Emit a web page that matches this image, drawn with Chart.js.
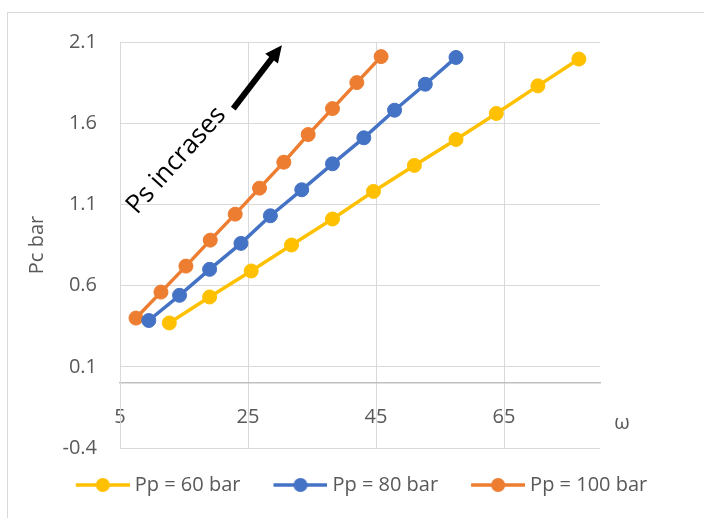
<!DOCTYPE html>
<html>
<head>
<meta charset="utf-8">
<script src="https://cdn.jsdelivr.net/npm/chart.js@4/dist/chart.umd.min.js"></script>
<style>
  body { margin: 0; background: #fff; }
  #wrap { width: 704px; height: 518px; }
</style>
</head>
<body>
<div id="wrap"><canvas id="myChart" width="704" height="518"></canvas></div>
<script>
// values
const seriesNames = ['Pp = 60 bar', 'Pp = 80 bar', 'Pp = 100 bar'];
const seriesColors = ['#FFC000', '#4472C4', '#ED7D31'];

const omega60 = [12.7, 19.0, 25.5, 31.8, 38.2, 44.6, 51.0, 57.5, 63.8, 70.3, 76.7];
const pc60 = [0.37, 0.53, 0.69, 0.85, 1.01, 1.18, 1.34, 1.50, 1.66, 1.83, 1.995];

const omega80 = [9.5, 14.3, 19.0, 23.9, 28.5, 33.4, 38.2, 43.1, 47.9, 52.7, 57.5];
const pc80 = [0.385, 0.54, 0.70, 0.86, 1.03, 1.19, 1.35, 1.51, 1.68, 1.84, 2.005];

const omega100 = [7.5, 11.4, 15.3, 19.1, 23.0, 26.8, 30.6, 34.4, 38.2, 42.0, 45.8];
const pc100 = [0.40, 0.56, 0.72, 0.88, 1.04, 1.20, 1.36, 1.53, 1.69, 1.85, 2.01];

const xTicks = [5, 25, 45, 65];
const yTicks = [-0.4, 0.1, 0.6, 1.1, 1.6, 2.1];

const textColor = '#595959';
const gridColor = '#d9d9d9';
const fontFamily = '"Open Sans", "Noto Sans", sans-serif';

function toPoints(xs, ys) {
  return xs.map((x, i) => ({ x: x, y: ys[i] }));
}

// little line + marker picture for the legend
function legendIcon(color) {
  const c = document.createElement('canvas');
  c.width = 65;
  c.height = 16;
  const g = c.getContext('2d');
  g.strokeStyle = color;
  g.lineWidth = 3.5;
  g.beginPath();
  g.moveTo(11, 8);
  g.lineTo(65, 8);
  g.stroke();
  g.fillStyle = color;
  g.beginPath();
  g.arc(38, 8, 7, 0, Math.PI * 2);
  g.fill();
  return c;
}
const icons = seriesColors.map(legendIcon);

const allData = [toPoints(omega60, pc60), toPoints(omega80, pc80), toPoints(omega100, pc100)];

const datasets = allData.map((pts, i) => ({
  label: seriesNames[i],
  data: pts,
  showLine: true,
  borderColor: seriesColors[i],
  backgroundColor: seriesColors[i],
  borderWidth: 3.5,
  pointRadius: 7,
  pointBorderWidth: 1,
  pointBackgroundColor: seriesColors[i],
  pointBorderColor: seriesColors[i],
  tension: 0
}));

// arrow and annotation text, placed in data units
const arrowFrom = { x: 22.7, y: 1.69 };
const arrowTo = { x: 30.3, y: 2.08 };
const noteAt = { x: 13.8, y: 1.37 };

const decor = {
  id: 'decor',
  beforeDraw(chart) {
    const ctx = chart.ctx;
    ctx.save();
    ctx.strokeStyle = gridColor;
    ctx.lineWidth = 1;
    ctx.strokeRect(7.5, 12.5, 760, 560);
    ctx.restore();
  },
  afterDraw(chart) {
    const ctx = chart.ctx;
    const xs = chart.scales.x;
    const ys = chart.scales.y;

    // arrow
    const x1 = xs.getPixelForValue(arrowFrom.x), y1 = ys.getPixelForValue(arrowFrom.y);
    const x2 = xs.getPixelForValue(arrowTo.x), y2 = ys.getPixelForValue(arrowTo.y);
    const ang = Math.atan2(y2 - y1, x2 - x1);
    const head = 17;
    ctx.save();
    ctx.strokeStyle = '#000';
    ctx.fillStyle = '#000';
    ctx.lineWidth = 6;
    ctx.beginPath();
    ctx.moveTo(x1, y1);
    ctx.lineTo(x2 - head * 0.8 * Math.cos(ang), y2 - head * 0.8 * Math.sin(ang));
    ctx.stroke();
    ctx.beginPath();
    ctx.moveTo(x2, y2);
    ctx.lineTo(x2 - head * Math.cos(ang) + 8 * Math.sin(ang), y2 - head * Math.sin(ang) - 8 * Math.cos(ang));
    ctx.lineTo(x2 - head * Math.cos(ang) - 8 * Math.sin(ang), y2 - head * Math.sin(ang) + 8 * Math.cos(ang));
    ctx.closePath();
    ctx.fill();
    ctx.restore();

    // rotated note
    ctx.save();
    ctx.translate(xs.getPixelForValue(noteAt.x), ys.getPixelForValue(noteAt.y));
    ctx.rotate(-48 * Math.PI / 180);
    ctx.fillStyle = '#000';
    ctx.font = '26px ' + fontFamily;
    ctx.textAlign = 'center';
    ctx.textBaseline = 'middle';
    ctx.fillText('Ps incrases', 0, 0);
    ctx.restore();

    // omega axis title
    ctx.save();
    ctx.fillStyle = textColor;
    ctx.font = '20px ' + fontFamily;
    ctx.textAlign = 'center';
    ctx.textBaseline = 'alphabetic';
    ctx.fillText('ω', chart.chartArea.right + 22, ys.getPixelForValue(-0.28));
    ctx.restore();
  }
};

const ctx = document.getElementById('myChart').getContext('2d');

const myChart = new Chart(ctx, {
  type: 'scatter',
  data: { datasets: datasets },
  plugins: [decor],
  options: {
    responsive: false,
    animation: false,
    layout: { padding: { left: 13, right: 0, top: 42, bottom: 13 } },
    plugins: {
      tooltip: { enabled: false },
      legend: {
        position: 'bottom',
        labels: {
          usePointStyle: true,
          pointStyleWidth: 55,
          padding: 27,
          color: textColor,
          font: { family: fontFamily, size: 20 },
          generateLabels: (chart) => chart.data.datasets.map((ds, i) => ({
            text: ds.label,
            pointStyle: icons[i],
            fontColor: textColor,
            fillStyle: 'rgba(0,0,0,0)',
            strokeStyle: 'rgba(0,0,0,0)',
            lineWidth: 0,
            hidden: false,
            datasetIndex: i
          }))
        }
      }
    },
    scales: {
      x: {
        type: 'linear',
        position: { y: 0 },
        min: 5,
        max: 80,
        afterBuildTicks: (s) => { s.ticks = xTicks.map(v => ({ value: v })); },
        grid: { color: gridColor, drawTicks: false },
        border: { color: '#bfbfbf', width: 1.5 },
        ticks: {
          padding: 22,
          maxRotation: 0,
          color: textColor,
          font: { family: fontFamily, size: 20 }
        }
      },
      y: {
        type: 'linear',
        position: 'left',
        min: -0.4,
        max: 2.1,
        afterBuildTicks: (s) => { s.ticks = yTicks.map(v => ({ value: v })); },
        afterFit: (s) => { s.width = 107; },
        grid: { color: gridColor, drawTicks: false },
        border: { color: gridColor },
        ticks: {
          padding: 23,
          color: textColor,
          font: { family: fontFamily, size: 20 },
          callback: (v) => Number(v).toFixed(1)
        },
        title: {
          display: true,
          text: 'Pc bar',
          color: textColor,
          font: { family: fontFamily, size: 20 },
          padding: { top: 12, bottom: 0 }
        }
      },
      yRight: {
        type: 'linear',
        position: 'right',
        display: true,
        afterFit: (s) => { s.width = 104; },
        grid: { display: false },
        border: { display: false },
        ticks: { display: false }
      }
    }
  }
});
</script>
</body>
</html>
